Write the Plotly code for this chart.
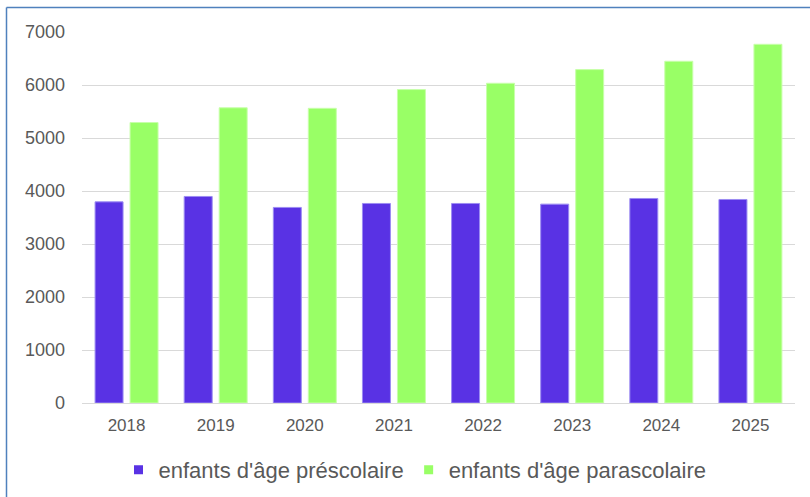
import plotly.graph_objects as go

years = ["2018", "2019", "2020", "2021", "2022", "2023", "2024", "2025"]
prescolaire = [3795, 3897, 3690, 3765, 3765, 3752, 3859, 3840]
parascolaire = [5292, 5570, 5560, 5914, 6033, 6291, 6448, 6768]
series_names = ["enfants d'âge préscolaire", "enfants d'âge parascolaire"]
y_ticks = [0, 1000, 2000, 3000, 4000, 5000, 6000, 7000]

purple = "#5932E4"
green = "#99FF66"
text_col = "#595959"

W, H = 810, 497
L, R, T, B = 82, 15, 32, 94
pw, ph = W - L - R, H - T - B

def px_x(p):
    return (p - L) / pw

def px_y(p):
    return (H - B - p) / ph

fig = go.Figure()
fig.add_trace(go.Bar(x=years, y=prescolaire, name=series_names[0],
                     marker=dict(color=purple, line=dict(color="#9C8CF2", width=1)),
                     showlegend=False))
fig.add_trace(go.Bar(x=years, y=parascolaire, name=series_names[1],
                     marker=dict(color=green, line=dict(color="#C8FFAA", width=1)),
                     showlegend=False))
# legend entries
fig.add_trace(go.Scatter(x=[None], y=[None], mode="markers", name=series_names[0],
                         marker=dict(symbol="square", size=9, color=purple)))
fig.add_trace(go.Scatter(x=[None], y=[None], mode="markers", name=series_names[1],
                         marker=dict(symbol="square", size=9, color=green)))

fig.update_layout(
    width=W, height=H,
    margin=dict(l=L, r=R, t=T, b=B, autoexpand=False),
    paper_bgcolor="white", plot_bgcolor="white",
    barmode="group", bargap=0.215, bargroupgap=0.2,
    font=dict(family="Liberation Sans, Arial, sans-serif", color=text_col),
    legend=dict(orientation="h", xref="container", yref="container",
                x=415 / W, xanchor="center",
                y=(H - 470) / H, yanchor="middle",
                font=dict(size=22, color=text_col),
                itemwidth=30, tracegroupgap=0, bgcolor="rgba(0,0,0,0)"),
    xaxis=dict(type="category", showgrid=False, showline=True, automargin=False,
               linecolor="#D9D9D9", linewidth=1, ticklabelstandoff=7,
               tickfont=dict(size=17, color=text_col), ticks=""),
    yaxis=dict(range=[0, 7000], tickvals=y_ticks, showgrid=True, automargin=False,
               gridcolor="#D9D9D9", gridwidth=1, zeroline=False,
               showline=False, ticks="", ticklabelstandoff=16,
               tickfont=dict(size=18, color=text_col)),
    shapes=[
        dict(type="line", xref="paper", yref="paper",
             x0=px_x(6.5), x1=px_x(6.5), y0=px_y(7.5), y1=px_y(520),
             line=dict(color="#4F81BD", width=1.5)),
        dict(type="line", xref="paper", yref="paper",
             x0=px_x(6.5), x1=px_x(830), y0=px_y(7.5), y1=px_y(7.5),
             line=dict(color="#4F81BD", width=1.5)),
    ],
)

fig.write_html("out.html",
               config={"displayModeBar": False},
               post_script="document.body.style.margin='0px';document.body.style.padding='0px';")
